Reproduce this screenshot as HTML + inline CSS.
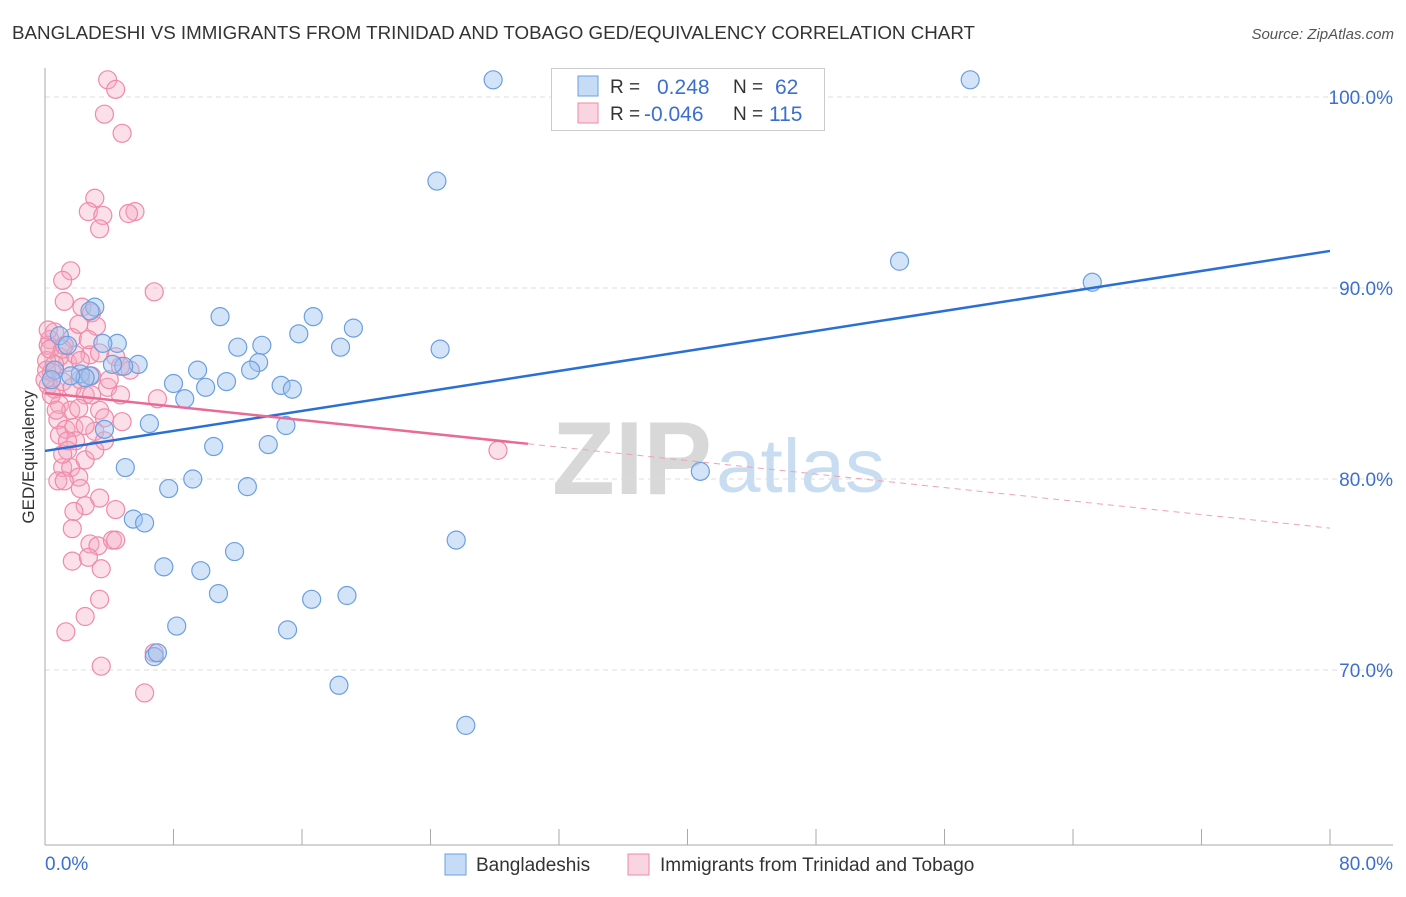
<!DOCTYPE html>
<html><head><meta charset="utf-8"><style>
body{margin:0;background:#fff;font-family:"Liberation Sans",sans-serif;}
svg text{font-family:"Liberation Sans",sans-serif;}
</style></head><body>
<svg id="c" width="1406" height="892">
<text x="12" y="39" font-size="18.6" fill="#333" textLength="963" lengthAdjust="spacingAndGlyphs">BANGLADESHI VS IMMIGRANTS FROM TRINIDAD AND TOBAGO GED/EQUIVALENCY CORRELATION CHART</text>
<text x="1394" y="39" font-size="15" fill="#555" font-style="italic" text-anchor="end">Source: ZipAtlas.com</text>
<text x="34" y="457" font-size="17" fill="#333" text-anchor="middle" transform="rotate(-90 34 457)">GED/Equivalency</text>
<g><text x="552" y="494" font-size="104" fill="#d8d8d8" font-family="Liberation Serif" font-weight="bold" textLength="160" lengthAdjust="spacingAndGlyphs">ZIP</text><text x="716" y="492" font-size="76" fill="#c8dcf2" textLength="169" lengthAdjust="spacingAndGlyphs">atlas</text></g>
<g id="grid"></g><g id="pts"></g><g id="lines"></g>
<g>
<rect x="551.5" y="68.5" width="273" height="62" fill="#fff" stroke="#ccc"/>
<rect x="578" y="76" width="20" height="20" fill="rgba(160,196,240,0.6)" stroke="#6b9fe0"/>
<rect x="578" y="103" width="20" height="20" fill="rgba(244,170,196,0.5)" stroke="#f08aa8"/>
<text x="610" y="93" font-size="19" fill="#333">R =</text><text x="657" y="94" font-size="21" fill="#3b6fd0">0.248</text>
<text x="733" y="93" font-size="19" fill="#333">N =</text><text x="775" y="94" font-size="21" fill="#3b6fd0">62</text>
<text x="610" y="120" font-size="19" fill="#333">R =</text><text x="644" y="121" font-size="21" fill="#3b6fd0">-0.046</text>
<text x="733" y="120" font-size="19" fill="#333">N =</text><text x="769" y="121" font-size="21" fill="#3b6fd0">115</text>
</g>
<g>
<rect x="445" y="854" width="21" height="21" fill="rgba(160,196,240,0.6)" stroke="#6b9fe0"/>
<text x="476" y="871" font-size="19" fill="#333">Bangladeshis</text>
<rect x="628" y="854" width="21" height="21" fill="rgba(244,170,196,0.5)" stroke="#f08aa8"/>
<text x="660" y="871" font-size="19" fill="#333">Immigrants from Trinidad and Tobago</text>
</g>
<text x="45" y="870" font-size="19" fill="#3b6fd0">0.0%</text>
<text x="1393" y="870" font-size="19" fill="#3b6fd0" text-anchor="end">80.0%</text>
</svg>
<script>
const yTicks=[100,90,80,70];
const blueX=[27.9,57.6,24.4,53.2,65.2,3.1,10.9,16.7,2.8,19.2,15.8,4.5,3.6,12.0,13.5,18.4,24.6,5.8,4.9,13.3,9.5,12.8,2.2,2.8,8.0,11.3,14.7,10.0,15.4,8.7,6.5,15.0,3.7,10.5,13.9,5.0,40.8,9.2,7.7,12.6,5.5,6.2,25.6,11.8,7.4,9.7,10.8,16.6,18.8,8.2,15.1,6.8,7.0,18.3,26.2,0.9,0.6,1.4,0.4,4.2,2.5,1.6];
const blueY=[100.9,100.9,95.6,91.4,90.3,89.0,88.5,88.5,88.8,87.9,87.6,87.1,87.1,86.9,87.0,86.9,86.8,86.0,85.9,86.1,85.7,85.7,85.5,85.4,85.0,85.1,84.9,84.8,84.7,84.2,82.9,82.8,82.6,81.7,81.8,80.6,80.4,80.0,79.5,79.6,77.9,77.7,76.8,76.2,75.4,75.2,74.0,73.7,73.9,72.3,72.1,70.7,70.9,69.2,67.1,87.5,85.7,87.0,85.2,86.0,85.3,85.4];
const pinkX=[3.9,4.4,3.7,4.8,3.1,2.7,3.6,5.6,5.2,3.4,1.6,1.1,6.8,1.2,2.3,2.9,3.2,0.6,0.3,1.7,2.8,3.4,4.4,5.3,1.4,0.9,0.2,0.1,0.4,0.2,0.6,1.1,1.7,2.2,2.5,3.9,2.9,4.7,7.0,0.9,1.6,2.1,3.4,0.8,1.3,1.8,4.8,3.7,0.9,1.9,3.1,1.4,2.5,3.1,1.1,1.6,0.8,2.1,1.2,2.2,3.4,2.5,1.8,4.4,1.7,2.8,3.3,4.2,4.4,1.7,2.7,3.5,3.4,2.5,1.3,3.5,6.2,6.8,28.2,0.3,0.1,0.6,1.1,1.9,0.4,0.0,0.7,0.2,1.2,2.2,4.0,2.5,1.1,2.9,2.1,2.7,1.4,3.7,4.7];
const pinkY=[100.9,100.4,99.1,98.1,94.7,94.0,93.8,94.0,93.9,93.1,90.9,90.4,89.8,89.3,89.0,88.7,88.0,87.7,87.3,87.4,86.5,86.6,86.4,85.7,86.1,86.4,87.0,86.2,85.6,84.9,84.7,85.1,84.8,85.2,84.4,84.8,85.4,85.9,84.2,83.9,83.6,83.7,83.6,83.1,82.6,82.7,83.0,83.2,82.3,82.0,82.5,81.5,81.0,81.5,80.6,80.6,79.9,80.1,79.9,79.5,79.0,78.6,78.3,78.4,77.4,76.6,76.5,76.8,76.8,75.7,75.9,75.3,73.7,72.8,72.0,70.2,68.8,70.9,81.5,86.8,85.7,86.0,86.8,86.5,84.4,85.2,83.6,87.8,87.0,86.2,85.2,82.8,81.3,84.4,88.1,87.3,82.0,82.0,84.4];
const blueTrend=[81.47,91.94];
const pinkTrend=[84.50,77.43];
const pinkSolidEnd=30.07;
const xs=v=>45+v/80*1285, ys=v=>97+(100-v)*19.1;
const NS='http://www.w3.org/2000/svg';
function mk(t,a,p){const e=document.createElementNS(NS,t);for(const k in a)e.setAttribute(k,a[k]);p.appendChild(e);return e;}
const g=document.getElementById('grid');
yTicks.forEach(t=>{
  const l=mk('line',{x1:45,x2:1393,y1:ys(t),y2:ys(t),stroke:'#ddd','stroke-dasharray':'5,4'},g);
  
  
  const tx=mk('text',{x:1393,y:ys(t)+7,'font-size':19,fill:'#3b6fd0','text-anchor':'end'},g);
  tx.textContent=t.toFixed(1)+'%';
  
  
});
const ax=mk('line',{x1:45,x2:45,y1:68,y2:845,stroke:'#aaa'},g);


const bx=mk('line',{x1:45,x2:1393,y1:845,y2:845,stroke:'#aaa'},g);


for(let i=0;i<=10;i++){
  const tk=mk('line',{x1:xs(i*8),x2:xs(i*8),y1:829,y2:845,stroke:'#aaa'},g);
  
  
}
const p=document.getElementById('pts');
pinkX.forEach((x,i)=>{
  const c=mk('circle',{cx:xs(x),cy:ys(pinkY[i]),r:9,fill:'rgba(244,165,192,0.35)',stroke:'#f08aa8','stroke-width':1.2},p);
  
  
});
blueX.forEach((x,i)=>{
  const c=mk('circle',{cx:xs(x),cy:ys(blueY[i]),r:9,fill:'rgba(160,196,240,0.45)',stroke:'#6b9fe0','stroke-width':1.2},p);
  
  
});
const L=document.getElementById('lines');
const b=mk('line',{x1:xs(0),y1:ys(blueTrend[0]),x2:xs(80),y2:ys(blueTrend[1]),stroke:'#2a6fd6','stroke-width':2.5},L);


const py=x=>pinkTrend[0]+(pinkTrend[1]-pinkTrend[0])*x/80;
const ps=mk('line',{x1:xs(0),y1:ys(py(0)),x2:xs(pinkSolidEnd),y2:ys(py(pinkSolidEnd)),stroke:'#ea6a96','stroke-width':2.5},L);


const pd=mk('line',{x1:xs(pinkSolidEnd),y1:ys(py(pinkSolidEnd)),x2:xs(80),y2:ys(py(80)),stroke:'#f0a0b8','stroke-width':1,'stroke-dasharray':'6,5'},L);


</script>
</body></html>
